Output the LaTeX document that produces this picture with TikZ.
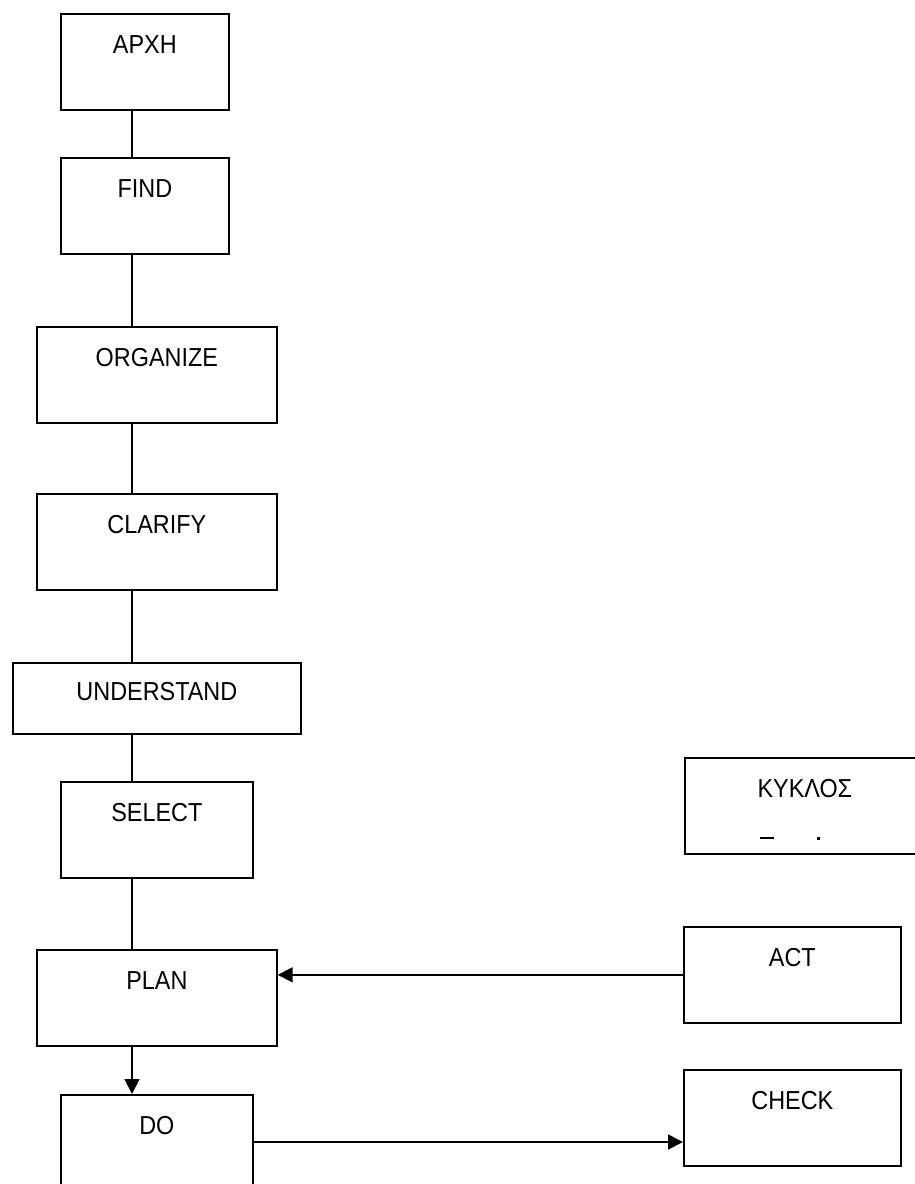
\documentclass[tikz,border=0pt]{standalone}
\usepackage{fontspec}
\setmainfont{Liberation Sans}
\newfontfamily\boxfont[FakeStretch=0.9]{Liberation Sans}
\usepackage{tikz}
\usetikzlibrary{positioning, arrows.meta}
\tikzset{
    flowbox/.style={rectangle, draw, line width=1.7pt, inner sep=0pt, anchor=north west, minimum width=#1, text height=40pt, text depth=56pt, font=\boxfont\fontsize{26}{30}\selectfont},
    lowbox/.style={flowbox=#1, text height=38pt, text depth=33pt},
    flowline/.style={line width=1.7pt},
    flowarrow/.style={flowline, -{Triangle[length=15pt, width=15pt]}}
}

\begin{document}
\begin{tikzpicture}[x=1pt, y=-1pt]
    \useasboundingbox (0,0) rectangle (915,1184);
    \clip (0,0) rectangle (915,1184);

    \node[flowbox=168pt] (arxi) at (60,13) {ΑΡΧΗ};
    \node[flowbox=168pt] (find) at (60,157) {FIND};
    \node[flowbox=240pt] (organize) at (36,326) {ORGANIZE};
    \node[flowbox=240pt] (clarify) at (36,493) {CLARIFY};
    \node[lowbox=288pt] (understand) at (12,662) {UNDERSTAND};
    \node[flowbox=192pt] (select) at (60,781) {SELECT};
    \node[flowbox=240pt] (plan) at (36,949) {PLAN};
    \node[flowbox=192pt] (do) at (60,1094) {DO};
    \node[flowbox=217pt] (act) at (683,926) {ACT};
    \node[flowbox=217pt] (check) at (683,1069) {CHECK};
    \node[flowbox=240pt] (kyklos) at (684,757) {ΚΥΚΛΟΣ};
    \fill (760,837) rectangle (774,839);
    \fill (817,837) rectangle (820,840);

    \coordinate (spine) at (132,0);
    \coordinate (docheck) at (0,1142);

    \draw[flowline] (arxi.south -| spine) -- (find.north -| spine);
    \draw[flowline] (find.south -| spine) -- (organize.north -| spine);
    \draw[flowline] (organize.south -| spine) -- (clarify.north -| spine);
    \draw[flowline] (clarify.south -| spine) -- (understand.north -| spine);
    \draw[flowline] (understand.south -| spine) -- (select.north -| spine);
    \draw[flowline] (select.south -| spine) -- (plan.north -| spine);
    \draw[flowarrow] (plan.south -| spine) -- (do.north -| spine);
    \draw[flowarrow] (act.west) -- (act.west -| plan.east);
    \draw[flowarrow] (do.east |- docheck) -- (check.west |- docheck);
\end{tikzpicture}
\end{document}
